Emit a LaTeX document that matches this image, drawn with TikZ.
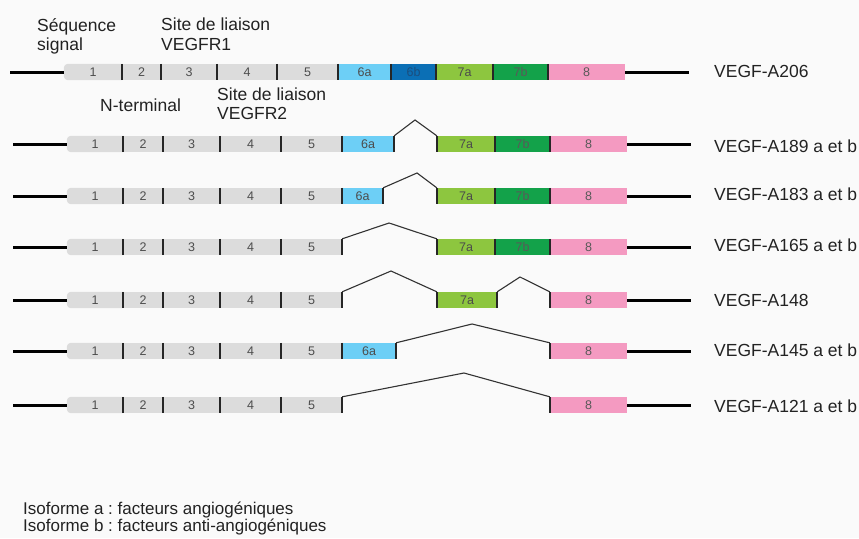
\documentclass[tikz,border=0pt]{standalone}
\usepackage{fontspec}
\setmainfont{Liberation Sans}
\usetikzlibrary{backgrounds}
\definecolor{exgrey}{HTML}{DCDCDC}
\definecolor{ex6a}{HTML}{6DCFF6}
\definecolor{ex6b}{HTML}{0B6FB5}
\definecolor{ex7a}{HTML}{8DC63F}
\definecolor{ex7b}{HTML}{13A24A}
\definecolor{ex8}{HTML}{F49AC1}
\definecolor{numtxt}{HTML}{4D4D4D}
\definecolor{txt6b}{HTML}{1B4E7E}
\definecolor{bgcol}{HTML}{FAFAFA}
\definecolor{labtxt}{HTML}{222222}
\newcommand\exon[6]{\node[exonbox,#5,minimum width={#3-#2}] (#1) at ({(#2+#3)/2},#4) {#6};}
\newcommand\roundfill[1]{\begin{pgfonlayer}{background}\fill[exgrey] (#1.north east) [rounded corners=4pt] -- (#1.north west) -- (#1.south west) [sharp corners] -- (#1.south east) -- cycle;\end{pgfonlayer}}
\newcommand\ticks[1]{\foreach \n in {#1} {\draw[tick] (\n.north east) -- (\n.south east);}}
\begin{document}
\begin{tikzpicture}[x=1pt,y=-1pt,
  exonbox/.style={rectangle, inner sep=0pt, minimum height=16pt, font=\fontsize{12.5}{12.5}\selectfont, text=numtxt},
  gr/.style={fill=exgrey},
  gfirst/.style={fill=none},
  c6a/.style={fill=ex6a},
  c6b/.style={fill=ex6b, text=txt6b},
  c7a/.style={fill=ex7a, text=black!70},
  c7b/.style={fill=ex7b, text=black!65},
  c8/.style={fill=ex8, text=black!65},
  tick/.style={draw=black!85, line width=1.6pt},
  tail/.style={draw=black, line width=3pt},
  splice/.style={draw=black!80, line width=1.1pt, line join=miter},
  lab/.style={anchor=base west, inner sep=0pt, font=\fontsize{17.5}{20}\selectfont, text=labtxt},
  foot/.style={anchor=base west, inner sep=0pt, font=\frenchspacing\fontsize{17}{18}\selectfont, text=labtxt}]
\begin{pgfonlayer}{background}
\fill[bgcol] (0,0) rectangle (859,538);
\end{pgfonlayer}
\useasboundingbox (0,0) rectangle (859,538);

% ---------- top labels
\node[lab] (seq1) at (37,31) {Séquence};
\node[lab] (seq2) at (37,50) {signal};
\node[lab] (sr1a) at (161,30) {Site de liaison};
\node[lab] (sr1b) at (161,50) {VEGFR1};
\node[lab] (nterm) at (100,111) {N-terminal};
\node[lab] (sr2a) at (217,100) {Site de liaison};
\node[lab] (sr2b) at (217,119) {VEGFR2};

% ---------- row 1 : VEGF-A206
\coordinate (s1) at (10,72);
\exon{a1}{64}{122}{72}{gfirst}{1}
\exon{a2}{122}{161}{72}{gr}{2}
\exon{a3}{161}{217}{72}{gr}{3}
\exon{a4}{217}{277}{72}{gr}{4}
\exon{a5}{277}{338}{72}{gr}{5}
\exon{a6a}{338}{391}{72}{c6a}{6a}
\exon{a6b}{391}{436}{72}{c6b}{6b}
\exon{a7a}{436}{493}{72}{c7a}{7a}
\exon{a7b}{493}{548}{72}{c7b}{7b}
\exon{a8}{548}{625}{72}{c8}{8}
\coordinate (e1) at (689,72);
\roundfill{a1}
\draw[tail] (s1) -- (a1.west);
\draw[tail] (a8.east) -- (e1);
\ticks{a1,a2,a3,a4,a5,a6a,a6b,a7a,a7b}
\node[lab] (l1) at (714,77) {VEGF-A206};

% ---------- row 2 : VEGF-A189
\coordinate (s2) at (13,144);
\exon{b1}{67}{123}{144}{gfirst}{1}
\exon{b2}{123}{163}{144}{gr}{2}
\exon{b3}{163}{220}{144}{gr}{3}
\exon{b4}{220}{281}{144}{gr}{4}
\exon{b5}{281}{342}{144}{gr}{5}
\exon{b6a}{342}{394}{144}{c6a}{6a}
\exon{b7a}{437}{495}{144}{c7a}{7a}
\exon{b7b}{495}{550}{144}{c7b}{7b}
\exon{b8}{550}{627}{144}{c8}{8}
\coordinate (e2) at (691,144);
\roundfill{b1}
\draw[tail] (s2) -- (b1.west);
\draw[tail] (b8.east) -- (e2);
\coordinate (p2) at (415,120);
\draw[splice] (b6a.north east) -- (p2) -- (b7a.north west);
\ticks{b1,b2,b3,b4,b5,b6a,b7a,b7b}
\draw[tick] (b7a.north west) -- (b7a.south west);
\node[lab] (l2) at (714,152) {VEGF-A189 a et b};

% ---------- row 3 : VEGF-A183
\coordinate (s3) at (13,196);
\exon{c1}{67}{123}{196}{gfirst}{1}
\exon{c2}{123}{163}{196}{gr}{2}
\exon{c3}{163}{220}{196}{gr}{3}
\exon{c4}{220}{281}{196}{gr}{4}
\exon{c5}{281}{342}{196}{gr}{5}
\exon{c6a}{342}{383}{196}{c6a}{6a}
\exon{c7a}{437}{495}{196}{c7a}{7a}
\exon{c7b}{495}{550}{196}{c7b}{7b}
\exon{c8}{550}{627}{196}{c8}{8}
\coordinate (e3) at (691,196);
\roundfill{c1}
\draw[tail] (s3) -- (c1.west);
\draw[tail] (c8.east) -- (e3);
\coordinate (p3) at (417,173);
\draw[splice] (c6a.north east) -- (p3) -- (c7a.north west);
\ticks{c1,c2,c3,c4,c5,c6a,c7a,c7b}
\draw[tick] (c7a.north west) -- (c7a.south west);
\node[lab] (l3) at (714,200) {VEGF-A183 a et b};

% ---------- row 4 : VEGF-A165
\coordinate (s4) at (13,247);
\exon{d1}{67}{123}{247}{gfirst}{1}
\exon{d2}{123}{163}{247}{gr}{2}
\exon{d3}{163}{220}{247}{gr}{3}
\exon{d4}{220}{281}{247}{gr}{4}
\exon{d5}{281}{342}{247}{gr}{5}
\exon{d7a}{437}{495}{247}{c7a}{7a}
\exon{d7b}{495}{550}{247}{c7b}{7b}
\exon{d8}{550}{627}{247}{c8}{8}
\coordinate (e4) at (691,247);
\roundfill{d1}
\draw[tail] (s4) -- (d1.west);
\draw[tail] (d8.east) -- (e4);
\coordinate (p4) at (389,223);
\draw[splice] (d5.north east) -- (p4) -- (d7a.north west);
\ticks{d1,d2,d3,d4,d5,d7a,d7b}
\draw[tick] (d7a.north west) -- (d7a.south west);
\node[lab] (l4) at (714,251) {VEGF-A165 a et b};

% ---------- row 5 : VEGF-A148
\coordinate (s5) at (13,300);
\exon{f1}{67}{123}{300}{gfirst}{1}
\exon{f2}{123}{163}{300}{gr}{2}
\exon{f3}{163}{220}{300}{gr}{3}
\exon{f4}{220}{281}{300}{gr}{4}
\exon{f5}{281}{342}{300}{gr}{5}
\exon{f7a}{437}{497}{300}{c7a}{7a}
\exon{f8}{550}{627}{300}{c8}{8}
\coordinate (e5) at (691,300);
\roundfill{f1}
\draw[tail] (s5) -- (f1.west);
\draw[tail] (f8.east) -- (e5);
\coordinate (p5a) at (391,271);
\coordinate (p5b) at (520,277);
\draw[splice] (f5.north east) -- (p5a) -- (f7a.north west);
\draw[splice] (f7a.north east) -- (p5b) -- (f8.north west);
\ticks{f1,f2,f3,f4,f5,f7a}
\draw[tick] (f7a.north west) -- (f7a.south west);
\draw[tick] (f8.north west) -- (f8.south west);
\node[lab] (l5) at (714,306) {VEGF-A148};

% ---------- row 6 : VEGF-A145
\coordinate (s6) at (13,351);
\exon{g1}{67}{123}{351}{gfirst}{1}
\exon{g2}{123}{163}{351}{gr}{2}
\exon{g3}{163}{220}{351}{gr}{3}
\exon{g4}{220}{281}{351}{gr}{4}
\exon{g5}{281}{342}{351}{gr}{5}
\exon{g6a}{342}{396}{351}{c6a}{6a}
\exon{g8}{550}{627}{351}{c8}{8}
\coordinate (e6) at (691,351);
\roundfill{g1}
\draw[tail] (s6) -- (g1.west);
\draw[tail] (g8.east) -- (e6);
\coordinate (p6) at (472,324);
\draw[splice] (g6a.north east) -- (p6) -- (g8.north west);
\ticks{g1,g2,g3,g4,g5,g6a}
\draw[tick] (g8.north west) -- (g8.south west);
\node[lab] (l6) at (714,356) {VEGF-A145 a et b};

% ---------- row 7 : VEGF-A121
\coordinate (s7) at (13,405);
\exon{h1}{67}{123}{405}{gfirst}{1}
\exon{h2}{123}{163}{405}{gr}{2}
\exon{h3}{163}{220}{405}{gr}{3}
\exon{h4}{220}{281}{405}{gr}{4}
\exon{h5}{281}{342}{405}{gr}{5}
\exon{h8}{550}{627}{405}{c8}{8}
\coordinate (e7) at (691,405);
\roundfill{h1}
\draw[tail] (s7) -- (h1.west);
\draw[tail] (h8.east) -- (e7);
\coordinate (p7) at (464,373);
\draw[splice] (h5.north east) -- (p7) -- (h8.north west);
\ticks{h1,h2,h3,h4,h5}
\draw[tick] (h8.north west) -- (h8.south west);
\node[lab] (l7) at (714,412) {VEGF-A121 a et b};

% ---------- footnote
\node[foot] (isoa) at (23,514) {Isoforme a : facteurs angiogéniques};
\node[foot] (isob) at (23,531) {Isoforme b : facteurs anti-angiogéniques};
\end{tikzpicture}
\end{document}
